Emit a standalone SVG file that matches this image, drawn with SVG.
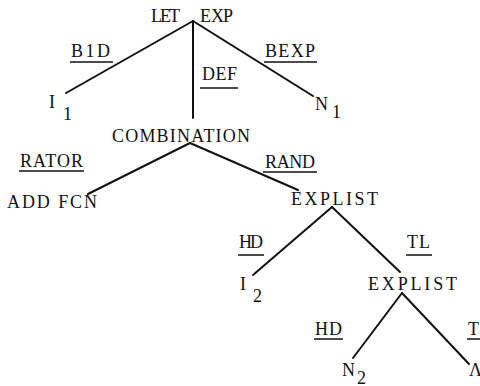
<svg xmlns="http://www.w3.org/2000/svg" width="480" height="386" viewBox="0 0 480 386">
  <style>
    text { font-family: "Liberation Serif", "DejaVu Serif", serif; font-size: 18px; fill: #111; }
    .edge { stroke: #111; stroke-width: 2; stroke-linecap: round; fill: none; }
    .ul { stroke: #111; stroke-width: 1.5; fill: none; }
  </style>
  <rect width="480" height="386" fill="#fff"/>

  <!-- tree branches -->
  <g id="connectors">
    <line class="edge" x1="193" y1="21" x2="66" y2="93"/>
    <line class="edge" x1="193" y1="21" x2="193" y2="118"/>
    <line class="edge" x1="193" y1="21" x2="313" y2="96"/>
    <line class="edge" x1="190" y1="143" x2="88" y2="194"/>
    <line class="edge" x1="190" y1="143" x2="298" y2="190"/>
    <line class="edge" x1="332" y1="207" x2="253" y2="275"/>
    <line class="edge" x1="332" y1="207" x2="400" y2="272"/>
    <line class="edge" x1="402" y1="293" x2="353" y2="358"/>
    <line class="edge" x1="402" y1="293" x2="469" y2="364"/>
  </g>

  <!-- branch labels, underlined -->
  <g id="edge-labels">
    <g id="lbl-bid">
      <text x="71" y="57" textLength="39" lengthAdjust="spacing">B1D</text>
      <line class="ul" x1="70" y1="62" x2="113" y2="62"/>
    </g>
    <g id="lbl-def">
      <text x="202" y="80" textLength="35" lengthAdjust="spacing">DEF</text>
      <line class="ul" x1="200" y1="88" x2="238" y2="88"/>
    </g>
    <g id="lbl-bexp">
      <text x="265" y="57" textLength="50" lengthAdjust="spacing">BEXP</text>
      <line class="ul" x1="264" y1="62" x2="317" y2="62"/>
    </g>
    <g id="lbl-rator">
      <text x="20" y="167" textLength="63" lengthAdjust="spacing">RATOR</text>
      <line class="ul" x1="19" y1="171" x2="84" y2="171"/>
    </g>
    <g id="lbl-rand">
      <text x="265" y="168" textLength="50" lengthAdjust="spacing">RAND</text>
      <line class="ul" x1="263" y1="172" x2="317" y2="172"/>
    </g>
    <g id="lbl-hd1">
      <text x="239" y="248" textLength="24" lengthAdjust="spacing">HD</text>
      <line class="ul" x1="238" y1="255" x2="264" y2="255"/>
    </g>
    <g id="lbl-tl1">
      <text x="407" y="248" textLength="23" lengthAdjust="spacing">TL</text>
      <line class="ul" x1="406" y1="255" x2="432" y2="255"/>
    </g>
    <g id="lbl-hd2">
      <text x="315" y="335" textLength="27" lengthAdjust="spacing">HD</text>
      <line class="ul" x1="314" y1="339" x2="343" y2="339"/>
    </g>
    <g id="lbl-tl2">
      <text x="468" y="335" textLength="23" lengthAdjust="spacing">TL</text>
      <line class="ul" x1="467" y1="339" x2="493" y2="339"/>
    </g>
  </g>

  <!-- tree nodes -->
  <g id="node-letexp">
    <text x="151 160 169 185 200 211 223" y="22">LET EXP</text>
  </g>
  <g id="node-i1">
    <text x="49" y="108">I<tspan x="63" y="120">1</tspan></text>
  </g>
  <g id="node-n1">
    <text x="315" y="110">N<tspan x="332" y="118">1</tspan></text>
  </g>
  <g id="node-combination">
    <text x="112" y="142" textLength="138" lengthAdjust="spacing">COMBINATION</text>
  </g>
  <g id="node-addfcn">
    <text x="7" y="208" textLength="90" lengthAdjust="spacing">ADD FCN</text>
  </g>
  <g id="node-explist1">
    <text x="291" y="205" textLength="87" lengthAdjust="spacing">EXPLIST</text>
  </g>
  <g id="node-i2">
    <text x="240" y="290">I<tspan x="253" y="302">2</tspan></text>
  </g>
  <g id="node-explist2">
    <text x="368" y="290" textLength="89" lengthAdjust="spacing">EXPLIST</text>
  </g>
  <g id="node-n2">
    <text x="342" y="376">N<tspan x="357" y="384">2</tspan></text>
  </g>
  <g id="node-nil">
    <text x="469" y="376">Λ</text>
  </g>
</svg>
